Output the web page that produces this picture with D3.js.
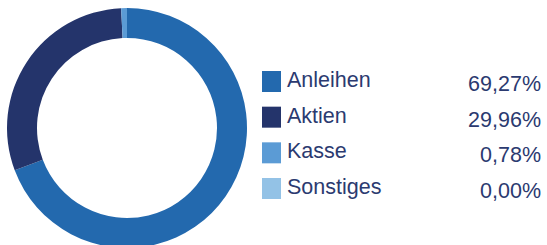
<!DOCTYPE html>
<html>
<head>
<meta charset="utf-8">
<script src="https://cdn.jsdelivr.net/npm/d3@7"></script>
<style>
  body { margin: 0; background: #fff; }
  text { font-family: "Liberation Sans", Arial, sans-serif; }
</style>
</head>
<body>
<div id="chart"></div>
<script>
const categories = ["Anleihen", "Aktien", "Kasse", "Sonstiges"];
const values = [69.27, 29.96, 0.78, 0.00];
const valueLabels = ["69,27%", "29,96%", "0,78%", "0,00%"];
const colors = ["#2369ae", "#24346b", "#5b9bd5", "#93c2e6"];

const width = 547, height = 245;
const textColor = "#2b3a70";

const svg = d3.select("#chart")
    .append("svg")
    .attr("width", width)
    .attr("height", height);

// donut
const pie = d3.pie().sort(null).value(d => d);
const arc = d3.arc().innerRadius(90).outerRadius(120);

svg.append("g")
    .attr("transform", "translate(127,128)")
    .selectAll("path")
    .data(pie(values))
    .join("path")
    .attr("d", arc)
    .attr("fill", (d, i) => colors[i]);

// legend
const y = d3.scalePoint()
    .domain(categories)
    .range([81, 188]);

const rows = svg.append("g")
    .selectAll("g")
    .data(categories)
    .join("g")
    .attr("transform", d => `translate(0,${y(d)})`);

rows.append("rect")
    .attr("x", 262)
    .attr("y", -10)
    .attr("width", 19)
    .attr("height", 21)
    .attr("fill", (d, i) => colors[i]);

rows.append("text")
    .attr("x", 287)
    .attr("y", 6)
    .attr("font-size", 21.5)
    .attr("fill", textColor)
    .text(d => d);

rows.append("text")
    .attr("x", 541)
    .attr("y", 10)
    .attr("font-size", 21.5)
    .attr("text-anchor", "end")
    .attr("fill", textColor)
    .text((d, i) => valueLabels[i]);
</script>
</body>
</html>
